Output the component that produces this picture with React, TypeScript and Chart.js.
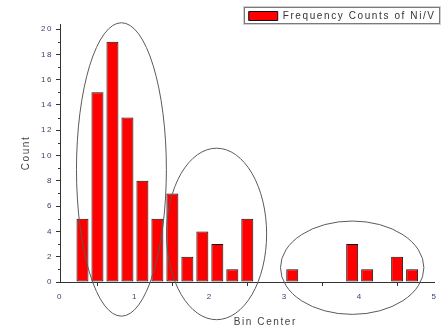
import React, { useEffect, useRef } from "react";
import { Chart, registerables } from "chart.js";

Chart.register(...registerables);

// ---- data ----
const binCenters = [0.3, 0.5, 0.7, 0.9, 1.1, 1.3, 1.5, 1.7, 1.9, 2.1, 2.3, 2.5, 3.1, 3.9, 4.1, 4.5, 4.7];
const counts = [5, 15, 19, 13, 8, 5, 7, 2, 4, 3, 1, 5, 1, 3, 1, 2, 1];
const seriesLabel = "Frequency Counts of Ni/V";
const xAxisTitle = "Bin Center";
const yAxisTitle = "Count";
const xTickValues = [0, 1, 2, 3, 4, 5];
const yTickValues = [0, 2, 4, 6, 8, 10, 12, 14, 16, 18, 20];
const xMinorTicks = [0.5, 1.5, 2.5, 3.5, 4.5];
const yMinorTicks = [1, 3, 5, 7, 9, 11, 13, 15, 17, 19];
// cluster ellipses (data coordinates)
const clusterCenterX = [0.82, 2.09, 3.9];
const clusterCenterY = [8.9, 3.8, 1.13];
const clusterRadiusX = [0.6, 0.668, 0.957];
const clusterRadiusY = [11.6, 6.78, 3.69];

const FONT = "Arial, 'Liberation Sans', sans-serif";
const TICK_COLOR = "#34466a";
const AXIS_COLOR = "#333333";
const SPACING = "1.6px";

const spacingPlugin = {
  id: "spacing",
  beforeUpdate(chart: any) {
    chart.ctx.letterSpacing = SPACING;
  },
  beforeLayout(chart: any) {
    chart.ctx.letterSpacing = SPACING;
    const lg = chart.legend;
    if (lg && !lg.__fixedFit) {
      const orig = lg.fit.bind(lg);
      lg.fit = function () {
        orig();
        this.height = 15;
      };
      lg.__fixedFit = true;
    }
  },
  beforeDraw(chart: any) {
    chart.ctx.letterSpacing = SPACING;
  },
};

const decorPlugin = {
  id: "decor",
  afterDraw(chart: any) {
    const ctx = chart.ctx;
    const xs = chart.scales.x;
    const ys = chart.scales.y;
    const area = chart.chartArea;
    ctx.save();
    // minor ticks
    ctx.strokeStyle = AXIS_COLOR;
    ctx.lineWidth = 1;
    yMinorTicks.forEach((v) => {
      const py = Math.round(ys.getPixelForValue(v)) + 0.5;
      ctx.beginPath();
      ctx.moveTo(area.left - 2, py);
      ctx.lineTo(area.left, py);
      ctx.stroke();
    });
    xMinorTicks.forEach((v) => {
      const px = Math.round(xs.getPixelForValue(v)) + 0.5;
      ctx.beginPath();
      ctx.moveTo(px, area.bottom);
      ctx.lineTo(px, area.bottom + 2);
      ctx.stroke();
    });
    // ellipses
    ctx.strokeStyle = "#5a5a5a";
    ctx.lineWidth = 1;
    for (let i = 0; i < clusterCenterX.length; i++) {
      const cx = xs.getPixelForValue(clusterCenterX[i]);
      const cy = ys.getPixelForValue(clusterCenterY[i]);
      const rx = Math.abs(xs.getPixelForValue(clusterCenterX[i] + clusterRadiusX[i]) - cx);
      const ry = Math.abs(ys.getPixelForValue(clusterCenterY[i] + clusterRadiusY[i]) - cy);
      ctx.beginPath();
      ctx.ellipse(cx, cy, rx, ry, 0, 0, Math.PI * 2);
      ctx.stroke();
    }
    // x axis title (sits right of the axis centre in the original)
    ctx.letterSpacing = SPACING;
    ctx.fillStyle = "#444444";
    ctx.font = "10px " + FONT;
    ctx.textAlign = "center";
    ctx.textBaseline = "middle";
    ctx.fillText(xAxisTitle, (area.left + area.right) / 2 + 18, chart.height - 6);
    // legend frame
    const lg = chart.legend;
    if (lg && lg.legendHitBoxes && lg.legendHitBoxes.length) {
      const hb = lg.legendHitBoxes[0];
      const x0 = Math.round(hb.left) - 4.5;
      const y0 = Math.round(hb.top) - 3.5;
      const w = Math.round(hb.width) + 8;
      const h = Math.round(hb.height) + 6;
      ctx.strokeStyle = "#7a7a7a";
      ctx.lineWidth = 1;
      ctx.strokeRect(x0, y0, w, h);
      ctx.strokeStyle = "#cfcfcf";
      ctx.strokeRect(x0 - 1, y0 - 1, w + 2, h + 2);
    }
    ctx.restore();
  },
};

export default function App() {
  const canvasRef = useRef<HTMLCanvasElement | null>(null);

  useEffect(() => {
    if (!canvasRef.current) return;
    const chart = new Chart(canvasRef.current, {
      type: "bar",
      data: {
        datasets: [
          {
            label: seriesLabel,
            data: binCenters.map((x, i) => ({ x, y: counts[i] })),
            backgroundColor: "#ff0000",
            borderColor: "#111111",
            borderWidth: 1,
            borderSkipped: false,
            categoryPercentage: 1,
            barPercentage: 0.8,
          } as any,
        ],
      },
      options: {
        animation: false,
        responsive: false,
        maintainAspectRatio: false,
        layout: { padding: { left: 14, right: 4.4, top: 9, bottom: 0 } },
        plugins: {
          legend: {
            position: "top",
            align: "end",
            labels: {
              boxWidth: 29,
              boxHeight: 9,
              padding: 2,
              color: "#333333",
              font: { family: FONT, size: 10 },
            },
          },
          tooltip: { enabled: false },
        },
        scales: {
          x: {
            type: "linear",
            offset: false,
            min: 0,
            max: 5,
            afterBuildTicks: (s: any) => {
              s.ticks = xTickValues.map((v) => ({ value: v }));
            },
            afterFit: (s: any) => {
              s.height = 46;
              s.paddingRight = 7.4;
              s.paddingLeft = 0;
            },
            grid: {
              display: true,
              drawOnChartArea: false,
              drawTicks: true,
              tickLength: 4,
              color: AXIS_COLOR,
            },
            border: { display: true, color: AXIS_COLOR },
            ticks: {
              color: TICK_COLOR,
              font: { family: FONT, size: 8 },
              padding: 6,
              maxRotation: 0,
              autoSkip: false,
            },
            title: { display: false, text: xAxisTitle },
          },
          y: {
            type: "linear",
            min: 0,
            max: 20.4,
            afterBuildTicks: (s: any) => {
              s.ticks = yTickValues.map((v) => ({ value: v }));
            },
            afterFit: (s: any) => {
              s.width = 46;
            },
            grid: {
              display: true,
              drawOnChartArea: false,
              drawTicks: true,
              tickLength: 4,
              color: AXIS_COLOR,
            },
            border: { display: true, color: AXIS_COLOR },
            ticks: {
              color: TICK_COLOR,
              font: { family: FONT, size: 8 },
              padding: 3,
              autoSkip: false,
            },
            title: {
              display: true,
              text: yAxisTitle,
              color: "#444444",
              font: { family: FONT, size: 10 },
              padding: { top: 6, bottom: 4 },
            },
          },
        },
      },
      plugins: [spacingPlugin, decorPlugin],
    });
    return () => chart.destroy();
  }, []);

  return (
    <div style={{ position: "fixed", left: 0, top: 0, width: 442, height: 328, background: "#ffffff" }}>
      <canvas ref={canvasRef} width={442} height={328} style={{ width: 442, height: 328 }} />
    </div>
  );
}
